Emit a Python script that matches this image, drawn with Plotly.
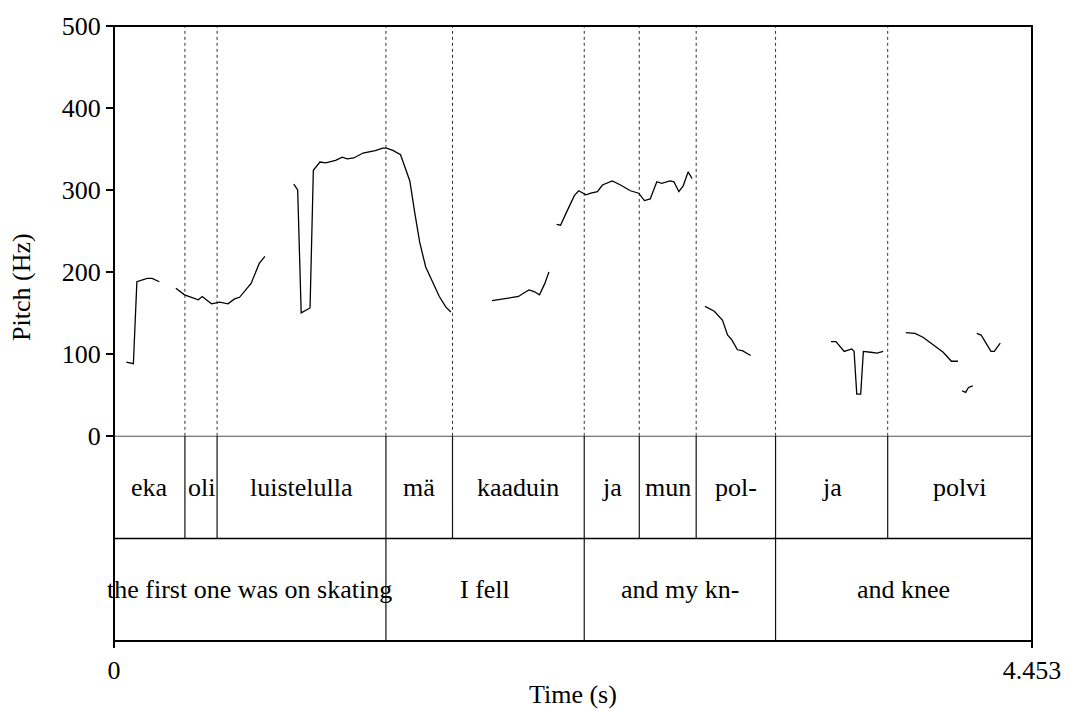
import plotly.graph_objects as go

# ---- data ----
T_MAX = 4.453

pitch_time = [
    0.060, 0.094, 0.111, 0.161, 0.185, 0.220, None,
    0.300, 0.342, 0.409, 0.428, 0.473, 0.513, 0.553, 0.585, 0.609, 0.665, 0.704, 0.732, None,
    0.872, 0.891, 0.908, 0.951, 0.967, 0.999, 1.027, 1.075, 1.107, 1.131, 1.163, 1.208, 1.267,
    1.304, 1.323, 1.355, 1.390, 1.411, 1.435, 1.459, 1.483, 1.512, 1.547, 1.578, 1.610, 1.634, None,
    1.834, 1.890, 1.930, 1.962, 1.986, 2.013, 2.038, 2.064, 2.090, 2.110, None,
    2.147, 2.166, 2.201, 2.233, 2.254, 2.289, 2.313, 2.345, 2.369, 2.417, 2.457, 2.505, 2.545,
    2.573, 2.601, 2.633, 2.657, 2.697, 2.716, 2.740, 2.761, 2.785, 2.804, None,
    2.867, 2.912, 2.952, 2.976, 2.997, 3.024, 3.048, 3.064, 3.088, None,
    3.478, 3.502, 3.542, 3.558, 3.579, 3.590, 3.603, 3.622, 3.635, 3.670, 3.702, 3.731, None,
    3.841, 3.886, 3.926, 3.982, 4.022, 4.051, 4.062, 4.094, None,
    4.113, 4.131, 4.145, 4.166, None,
    4.185, 4.206, 4.230, 4.254, 4.270, 4.299,
]
pitch_hz = [
    90, 88, 188, 192, 192, 188, None,
    180, 172, 166, 170, 161, 163, 161, 167, 169, 186, 210, 219, None,
    307, 300, 150, 156, 324, 334, 333, 336, 340, 338, 339, 345, 348,
    351, 351, 348, 343, 329, 311, 272, 236, 206, 188, 170, 157, 151, None,
    165, 167, 169, 170, 174, 178, 176, 172, 186, 200, None,
    258, 257, 276, 293, 299, 294, 296, 298, 306, 311, 306, 299, 296,
    287, 289, 310, 308, 311, 310, 298, 305, 322, 314, None,
    158, 152, 141, 123, 117, 105, 104, 102, 98, None,
    115, 115, 103, 104, 106, 103, 51, 51, 103, 102, 101, 103, None,
    126, 125, 120, 109, 102, 94, 91, 91, None,
    55, 53, 59, 61, None,
    125, 123, 113, 103, 103, 113,
]

words_bounds = [0, 0.344, 0.500, 1.319, 1.642, 2.281, 2.548, 2.824, 3.209, 3.753, T_MAX]
words_labels = ["eka", "oli", "luistelulla", "mä", "kaaduin", "ja", "mun", "pol-", "ja", "polvi"]

gloss_bounds = [0, 1.319, 2.281, 3.209, T_MAX]
gloss_labels = ["the first one was on skating", "I fell", "and my kn-", "and knee"]

pitch_ticks = [0, 100, 200, 300, 400, 500]

# ---- figure ----
FONT = "Liberation Serif"
FS = 26
SPLIT = 0.3336  # paper fraction where pitch area meets tiers

fig = go.Figure()
fig.add_trace(go.Scatter(
    x=pitch_time, y=pitch_hz, mode="lines",
    line=dict(color="black", width=1.3), connectgaps=False,
    xaxis="x", yaxis="y", hoverinfo="skip", showlegend=False,
))

shapes = []
for b in words_bounds[1:-1]:
    shapes.append(dict(type="line", xref="x", yref="y", x0=b, x1=b, y0=0, y1=500,
                       line=dict(color="#333", width=1, dash="dot"), layer="below"))
for b in words_bounds[1:-1]:
    shapes.append(dict(type="line", xref="x", yref="y2", x0=b, x1=b, y0=1, y1=2,
                       line=dict(color="#111", width=1.2)))
for b in gloss_bounds[1:-1]:
    shapes.append(dict(type="line", xref="x", yref="y2", x0=b, x1=b, y0=0, y1=1,
                       line=dict(color="#111", width=1.2)))
shapes.append(dict(type="line", xref="paper", yref="y2", x0=0, x1=1, y0=2, y1=2,
                   line=dict(color="black", width=1.3)))
shapes.append(dict(type="line", xref="paper", yref="y2", x0=0, x1=1, y0=1, y1=1,
                   line=dict(color="black", width=1.5)))
shapes.append(dict(type="rect", xref="paper", yref="paper", x0=0, x1=1, y0=0, y1=1,
                   line=dict(color="black", width=2)))

annotations = []
for i, lab in enumerate(words_labels):
    annotations.append(dict(x=(words_bounds[i] + words_bounds[i + 1]) / 2, y=1.5,
                            xref="x", yref="y2", text=lab, showarrow=False,
                            font=dict(family=FONT, size=FS, color="black")))
for i, lab in enumerate(gloss_labels):
    annotations.append(dict(x=(gloss_bounds[i] + gloss_bounds[i + 1]) / 2, y=0.5,
                            xref="x", yref="y2", text=lab, showarrow=False,
                            font=dict(family=FONT, size=FS, color="black")))
annotations.append(dict(x=0.5, y=0, xref="paper", yref="paper", text="Time (s)",
                        showarrow=False, yanchor="middle", yshift=-53,
                        font=dict(family=FONT, size=FS, color="black")))
annotations.append(dict(x=0, y=(1 + SPLIT) / 2, xref="paper", yref="paper", text="Pitch (Hz)",
                        showarrow=False, textangle=-90, xanchor="center", xshift=-92,
                        font=dict(family=FONT, size=FS, color="black")))

fig.update_layout(
    width=1073, height=709,
    margin=dict(l=114, r=29, t=22, b=68),
    paper_bgcolor="white", plot_bgcolor="white",
    font=dict(family=FONT, size=FS, color="black"),
    xaxis=dict(range=[0, T_MAX], anchor="y2", tickvals=[0, T_MAX], ticktext=["0", "4.453"],
               ticks="outside", ticklen=6, tickwidth=1.5, tickcolor="black",
               ticklabeloverflow="allow",
               showgrid=False, zeroline=False, showline=False,
               tickfont=dict(family=FONT, size=FS, color="black")),
    yaxis=dict(range=[0, 500], domain=[SPLIT, 1], tickvals=pitch_ticks,
               ticks="outside", ticklen=7, tickwidth=1.5, tickcolor="black",
               showgrid=False, zeroline=False, showline=False,
               tickfont=dict(family=FONT, size=FS, color="black")),
    yaxis2=dict(range=[0, 2], domain=[0, SPLIT], showticklabels=False, ticks="",
                showgrid=False, zeroline=False, showline=False),
    shapes=shapes, annotations=annotations, showlegend=False,
)

# pin the figure to the page's top-left corner (no body margin, no scrollbars)
pin = (
    "document.documentElement.style.margin='0';"
    "document.documentElement.style.overflow='hidden';"
    "document.body.style.margin='0';"
    "document.body.style.overflow='hidden';"
    "var g=document.getElementById('{plot_id}');"
    "g.style.position='absolute';g.style.left='0px';g.style.top='0px';"
)
fig.write_html("out.html", post_script=pin, config={"displayModeBar": False})
